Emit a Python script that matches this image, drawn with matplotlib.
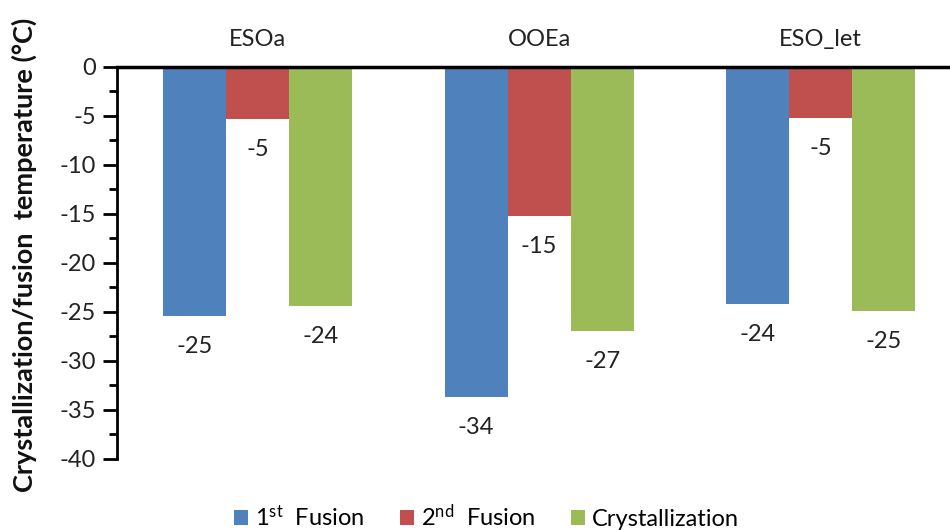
import matplotlib
matplotlib.use("Agg")
import matplotlib.pyplot as plt
import numpy as np

# values (deg C)
samples = ["ESOa", "OOEa", "ESO_let"]
series_names = ["1$^{st}$  Fusion", "2$^{nd}$  Fusion", "Crystallization"]
first_fusion = [-25.4, -33.7, -24.2]
second_fusion = [-5.3, -15.2, -5.2]
crystallization = [-24.4, -26.9, -24.9]
colors = ["#4F81BD", "#C0504D", "#9BBB59"]

plt.rcParams["font.family"] = ["Lato", "DejaVu Sans"]
plt.rcParams["mathtext.default"] = "regular"
plt.rcParams["axes.unicode_minus"] = False

fig = plt.figure(figsize=(9.5, 5.3), dpi=100)
ax = fig.add_axes([0.123, 0.134, 0.889, 0.7396])

x = np.arange(len(samples))
w = 0.224
for i, (vals, name, c) in enumerate(zip([first_fusion, second_fusion, crystallization],
                                        series_names, colors)):
    bars = ax.bar(x + (i - 1) * w, vals, width=w, color=c, label=name)
    for b, v in zip(bars, vals):
        ax.annotate(f"{v:.0f}", (b.get_x() + b.get_width() / 2, v),
                    xytext=(0, -22), textcoords="offset points",
                    ha="center", va="center", fontsize=17, color="#222222")

ax.set_xlim(-0.5, 2.5)
ax.set_ylim(-40, 0)
ax.set_yticks(np.arange(-40, 1, 5))
ax.set_yticks(np.arange(-40, 0, 2.5), minor=True)
ax.tick_params(axis="y", which="major", direction="out", length=10, width=2,
               labelsize=17, pad=5, labelcolor="#222222")
ax.tick_params(axis="y", which="minor", direction="out", length=6, width=2)

ax.xaxis.tick_top()
ax.set_xticks(x)
ax.set_xticklabels(samples, fontsize=17, color="#222222")
ax.tick_params(axis="x", length=0, pad=12)

for s in ["bottom", "right"]:
    ax.spines[s].set_visible(False)
ax.spines["left"].set_linewidth(2)
ax.spines["top"].set_linewidth(2.5)

# y label placed in figure coords, like the reference
fig.text(0.026, 0.52, "Crystallization/fusion  temperature (°C)", rotation=90,
         ha="center", va="center", fontsize=19.5, fontweight="bold",
         color="#111111")

fig.legend(loc="lower center", bbox_to_anchor=(0.512, -0.04), ncol=3,
           frameon=False, fontsize=17, handlelength=0.6, handleheight=0.6,
           handletextpad=0.3, columnspacing=1.5)

fig.savefig("out.png", dpi=100)
